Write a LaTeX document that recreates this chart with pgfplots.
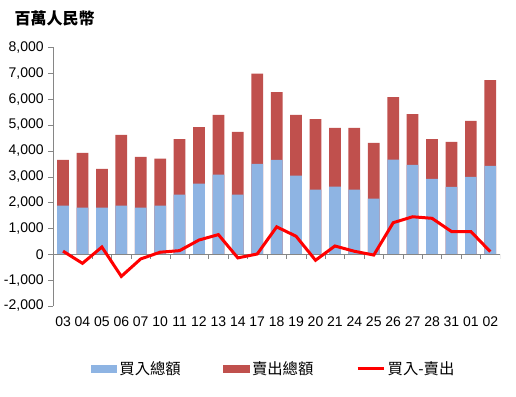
\documentclass[border=0pt]{standalone}
\usepackage{fontspec}
\setmainfont{Liberation Sans}
\newfontfamily\cjk{Noto Sans CJK TC}
\usepackage{pgfplots}
\usepackage{pgfplotstable}
\pgfplotsset{compat=1.18}
\definecolor{barblue}{HTML}{8EB4E3}
\definecolor{barred}{HTML}{C0504D}
\definecolor{linered}{HTML}{FF0000}
\definecolor{axisgray}{HTML}{868686}
\pgfplotstableread{
lab buy sell diff
03 1880 1765 120
04 1803 2113 -350
05 1803 1494 280
06 1880 2731 -855
07 1803 1958 -180
10 1880 1817 80
11 2306 2150 140
12 2731 2189 550
13 3078 2306 760
14 2306 2421 -140
17 3490 3491 10
18 3645 2628 1060
19 3040 2344 696
20 2499 2730 -232
21 2615 2267 320
24 2499 2383 116
25 2151 2151 -30
26 3658 2421 1220
27 3452 1970 1450
28 2911 1545 1390
31 2602 1739 880
01 2988 2164 880
02 3413 3323 100
}\data
\begin{document}
\begin{tikzpicture}
\path[use as bounding box] (0,0) rectangle (387pt,297pt);
\node[anchor=west,font=\cjk\bfseries\fontsize{12}{14}\selectfont] at (7.5pt,283.5pt) {百萬人民幣};
\begin{axis}[
  at={(40pt,67.5pt)}, anchor=south west, scale only axis,
  width=335pt, height=194pt,
  xmin=-0.5, xmax=22.5, ymin=-2000, ymax=8000,
  ytick={-2000,-1000,...,8000},
  xtick={0,...,22},
  xticklabels={03,04,05,06,07,10,11,12,13,14,17,18,19,20,21,24,25,26,27,28,31,01,02},
  axis y line=left, axis x line=bottom,
  x axis line style={draw=none},
  y axis line style={-, draw=axisgray},
  xtick style={draw=none},
  ytick style={draw=axisgray},
  tick align=outside, major tick length=3.75pt,
  /pgf/number format/1000 sep={,},
  /pgf/number format/assume math mode=true,
  ticklabel style={font=\fontsize{10.5}{12}\selectfont},
  xticklabel style={yshift=-1pt},
  legend columns=3,
  legend style={draw=none, fill=none, at={(0.494,-0.2435)}, anchor=center,
    font=\cjk\fontsize{11.5}{13}\selectfont,
    /tikz/every even column/.append style={column sep=30pt}},
  legend cell align=left,
]
\addlegendimage{legend image code/.code={\fill[barblue] (0pt,-2.6pt) rectangle (19pt,2.6pt);}}
\addlegendentry{買入總額}
\addlegendimage{legend image code/.code={\fill[barred] (0pt,-2.6pt) rectangle (19pt,2.6pt);}}
\addlegendentry{賣出總額}
\addlegendimage{legend image code/.code={\draw[linered,line width=2.25pt] (0pt,0pt) -- (19.5pt,0pt);}}
\addlegendentry{買入-賣出}
\addplot[ybar, bar width=8.8pt, bar shift=0pt, fill=barred, draw=none, forget plot]
  table[x expr=\coordindex, y expr=\thisrow{buy}+\thisrow{sell}] {\data};
\addplot[ybar, bar width=8.8pt, bar shift=0pt, fill=barblue, draw=none, forget plot]
  table[x expr=\coordindex, y=buy] {\data};
\draw[axisgray] (axis cs:-0.5,0) -- (axis cs:22.5,0);
\pgfplotsinvokeforeach{0,...,23}{\draw[axisgray] (axis cs:#1-0.5,0) -- ++(0pt,-3.75pt);}
\addplot[linered, line width=2.25pt, sharp plot, mark=none, forget plot]
  table[x expr=\coordindex, y=diff] {\data};
\end{axis}
\end{tikzpicture}
\end{document}
